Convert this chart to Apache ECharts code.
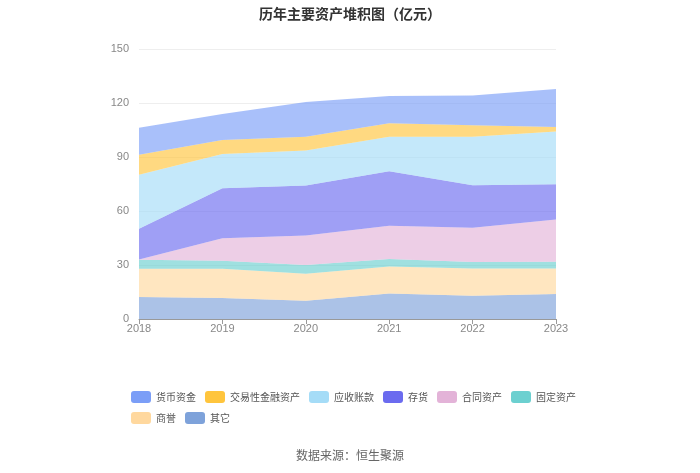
<!DOCTYPE html>
<html>
<head>
<meta charset="utf-8">
<script src="https://cdn.jsdelivr.net/npm/echarts@6/dist/echarts.min.js"></script>
<style>
html, body { margin: 0; padding: 0; background: #fff; }
#main { width: 700px; height: 473px; }
</style>
</head>
<body>
<div id="main"></div>
<script>
var years = ['2018', '2019', '2020', '2021', '2022', '2023'];

// 亿元, stacked bottom to top
var qita = [12.2, 11.7, 10.2, 14.1, 12.9, 13.9];
var shangyu = [15.7, 16.2, 15.0, 15.1, 15.2, 14.2];
var gudingzichan = [5.0, 4.5, 4.8, 4.1, 3.5, 3.7];
var hetongzichan = [0.1, 12.5, 16.4, 18.5, 19.1, 23.5];
var cunhuo = [17.1, 27.8, 27.8, 30.3, 23.6, 19.6];
var yingshou = [30.0, 19.0, 19.4, 19.2, 27.0, 29.2];
var jiaoyixing = [11.1, 7.8, 7.7, 7.4, 6.3, 2.6];
var huobi = [15.1, 14.4, 19.3, 15.2, 16.5, 21.1];

var yTicks = [0, 30, 60, 90, 120, 150];

var chart = echarts.init(document.getElementById('main'));

function areaSeries(name, data, color) {
    return {
        name: name,
        type: 'line',
        stack: 'total',
        data: data,
        symbol: 'none',
        lineStyle: { width: 0 },
        itemStyle: { color: color },
        areaStyle: { color: color, opacity: 0.65 }
    };
}

// series order = legend order; stacking goes bottom first, so reverse below
var list = [
    areaSeries('货币资金', huobi, '#7b9ef7'),
    areaSeries('交易性金融资产', jiaoyixing, '#ffc53d'),
    areaSeries('应收账款', yingshou, '#a5dcf7'),
    areaSeries('存货', cunhuo, '#6b6bef'),
    areaSeries('合同资产', hetongzichan, '#e3b3d8'),
    areaSeries('固定资产', gudingzichan, '#6cd0d0'),
    areaSeries('商誉', shangyu, '#ffd89e'),
    areaSeries('其它', qita, '#7ea2da')
];

option = {
    animation: false,
    title: {
        text: '历年主要资产堆积图（亿元）',
        left: 'center',
        top: 2,
        textStyle: { fontSize: 14, fontWeight: 'bold', color: '#333', fontFamily: 'Noto Sans CJK SC' }
    },
    legend: {
        data: list.map(function (s) { return s.name; }),
        left: 126,
        width: 470,
        top: 386,
        itemWidth: 20,
        itemHeight: 12,
        itemGap: 9,
        icon: 'roundRect',
        textStyle: { fontSize: 10, color: '#555', fontFamily: 'Noto Sans CJK SC' }
    },
    grid: { left: 139, right: 144, top: 49, bottom: 154 },
    xAxis: {
        type: 'category',
        data: years,
        boundaryGap: false,
        axisLine: { lineStyle: { color: '#999' } },
        axisTick: { show: true, lineStyle: { color: '#999' } },
        axisLabel: { color: '#888', fontSize: 11, margin: 4 }
    },
    yAxis: {
        type: 'value',
        min: yTicks[0],
        max: yTicks[yTicks.length - 1],
        interval: 30,
        axisLine: { show: false },
        axisTick: { show: false },
        axisLabel: { color: '#888', fontSize: 11, margin: 10 },
        splitLine: { lineStyle: { color: '#eee' } }
    },
    graphic: [{
        type: 'text',
        left: 'center',
        top: 449,
        style: { text: '数据来源：恒生聚源', fill: '#666', fontSize: 12, fontFamily: 'Noto Sans CJK SC' }
    }],
    series: list.slice().reverse()
};

chart.setOption(option);
</script>
</body>
</html>
